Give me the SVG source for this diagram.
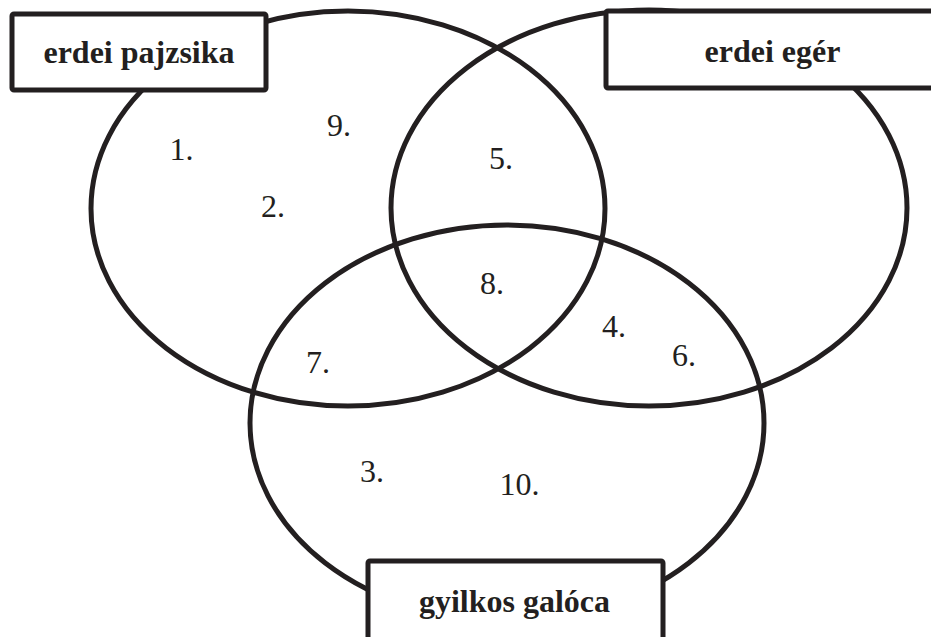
<svg xmlns="http://www.w3.org/2000/svg" width="931" height="637" viewBox="0 0 931 637">
<style>
.set{fill:none;stroke:#231f20;stroke-width:5}
.box{fill:#fff;stroke:#231f20;stroke-width:5}
.lbl{font-family:"Liberation Serif","Times New Roman",serif;font-weight:bold;font-size:32px;fill:#231f20;text-anchor:middle}
.num{font-family:"Liberation Serif","Times New Roman",serif;font-size:32px;fill:#231f20}
</style>
<rect width="931" height="637" fill="#fff"/>
<g id="sets">
<ellipse id="set-pajzsika" class="set" cx="348" cy="208.5" rx="257" ry="197.5"/>
<ellipse id="set-eger" class="set" cx="649" cy="208" rx="258" ry="198"/>
<ellipse id="set-galoca" class="set" cx="507" cy="423" rx="257" ry="198"/>
</g>
<g id="connectors"></g>
<g id="node-pajzsika">
<rect class="box" x="12" y="14" width="254" height="76" rx="2"/>
<text class="lbl" x="139" y="63">erdei pajzsika</text>
</g>
<g id="node-eger">
<rect class="box" x="606" y="11" width="340" height="77" rx="2"/>
<text class="lbl" x="772.5" y="62">erdei egér</text>
</g>
<g id="node-galoca">
<rect class="box" x="368" y="561" width="295" height="100" rx="2"/>
<text class="lbl" x="514.5" y="612">gyilkos galóca</text>
</g>
<g id="numbers">
<text class="num" x="169.5" y="160">1.</text>
<text class="num" x="327" y="136">9.</text>
<text class="num" x="261" y="217">2.</text>
<text class="num" x="489" y="169">5.</text>
<text class="num" x="480" y="294">8.</text>
<text class="num" x="602" y="337">4.</text>
<text class="num" x="672" y="366">6.</text>
<text class="num" x="306" y="373">7.</text>
<text class="num" x="360" y="482">3.</text>
<text class="num" x="499.5" y="495">10.</text>
</g>
</svg>
